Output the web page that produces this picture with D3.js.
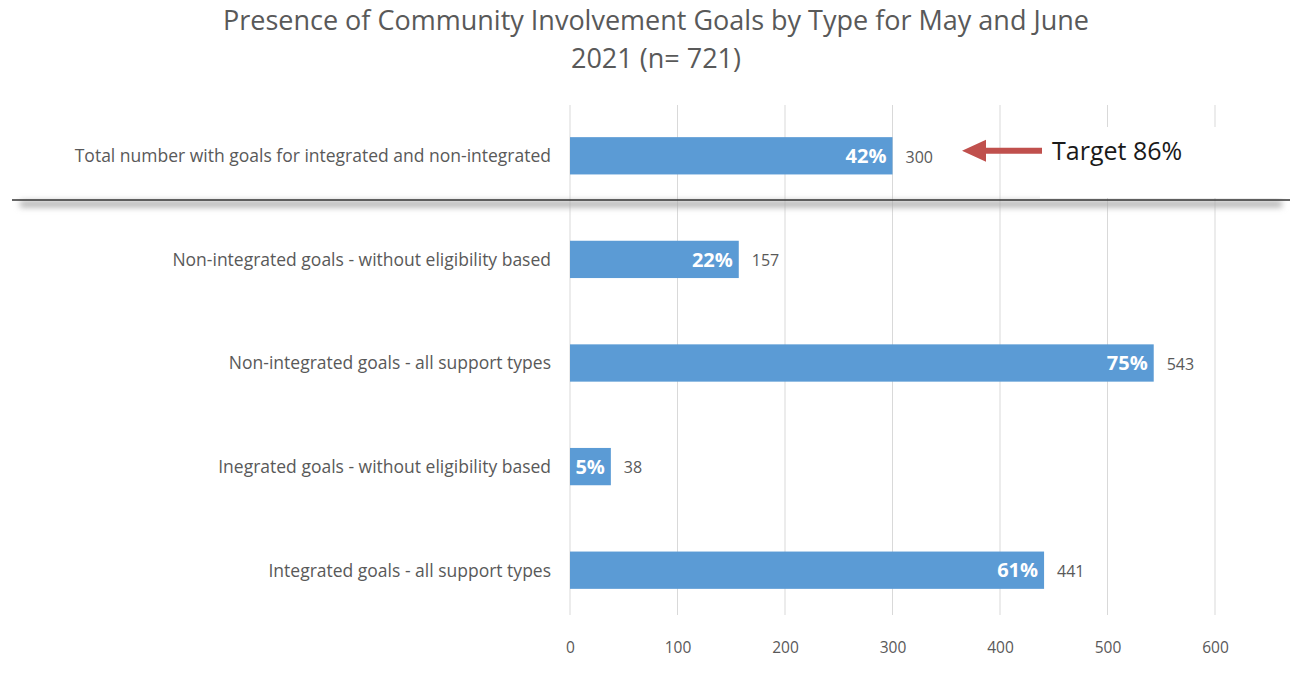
<!DOCTYPE html>
<html>
<head>
<meta charset="utf-8">
<script src="https://cdn.jsdelivr.net/npm/d3@7"></script>
<style>
  html, body { margin: 0; padding: 0; background: #fff; }
  svg { display: block; }
</style>
</head>
<body>
<svg id="chart" width="1291" height="673"></svg>
<script>
// Goal categories, top to bottom
const categories = [
  "Total number with goals for integrated and non-integrated",
  "Non-integrated goals - without eligibility based",
  "Non-integrated goals - all support types",
  "Inegrated goals - without eligibility based",
  "Integrated goals - all support types"
];
// Number of people with each goal type
const counts = [300, 157, 543, 38, 441];
// Share of the 721 people
const shares = ["42%", "22%", "75%", "5%", "61%"];
// Axis tick values
const ticks = [0, 100, 200, 300, 400, 500, 600];
const titleLines = ["Presence of Community Involvement Goals by Type for May and June", "2021 (n= 721)"];
const targetLabel = "Target 86%";

const svg = d3.select("#chart");
const FONT = "'Open Sans', sans-serif";

const x = d3.scaleLinear().domain([0, 600]).range([570, 1215]);
const y = d3.scaleBand().domain(categories).range([104, 622]).paddingInner(0.64).paddingOuter(0.32);

const defs = svg.append("defs");
const blur = defs.append("filter").attr("id", "shadow").attr("x", "-5%").attr("y", "-200%").attr("width", "110%").attr("height", "500%");
blur.append("feGaussianBlur").attr("stdDeviation", 3);

// Title
svg.append("g").selectAll("text").data(titleLines).join("text")
  .attr("x", 656).attr("y", (d, i) => 30 + i * 38)
  .attr("text-anchor", "middle")
  .attr("font-family", FONT)
  .attr("font-size", 27)
  .attr("fill", "#595959")
  .text(d => d);

// Vertical gridlines
svg.append("g").selectAll("line").data(ticks).join("line")
  .attr("x1", d => x(d)).attr("x2", d => x(d))
  .attr("y1", 105).attr("y2", 615)
  .attr("stroke", "#d9d9d9").attr("stroke-width", 1);

// Bars
svg.append("g").selectAll("rect").data(counts).join("rect")
  .attr("x", x(0))
  .attr("y", (d, i) => y(categories[i]))
  .attr("width", d => x(d) - x(0))
  .attr("height", y.bandwidth())
  .attr("fill", "#5B9BD5");

// Percent labels inside bar ends
svg.append("g").selectAll("text").data(counts).join("text")
  .attr("x", d => x(d) - 6)
  .attr("y", (d, i) => y(categories[i]) + y.bandwidth() / 2)
  .attr("dy", "0.36em")
  .attr("text-anchor", "end")
  .attr("font-family", FONT)
  .attr("font-weight", "bold")
  .attr("font-size", 20)
  .attr("fill", "#fff")
  .text((d, i) => shares[i]);

// Count labels past bar ends
svg.append("g").selectAll("text").data(counts).join("text")
  .attr("x", d => x(d) + 13)
  .attr("y", (d, i) => y(categories[i]) + y.bandwidth() / 2)
  .attr("dy", "0.42em")
  .attr("font-family", FONT)
  .attr("font-size", 16)
  .attr("fill", "#595959")
  .text(d => d);

// Category labels
svg.append("g").selectAll("text").data(categories).join("text")
  .attr("x", 551)
  .attr("y", d => y(d) + y.bandwidth() / 2)
  .attr("dy", "0.36em")
  .attr("text-anchor", "end")
  .attr("font-family", FONT)
  .attr("font-size", 17.5)
  .attr("fill", "#595959")
  .text(d => d);

// Bottom axis
const axis = svg.append("g").attr("transform", "translate(0,636)")
  .call(d3.axisBottom(x).tickValues(ticks).tickSize(0).tickPadding(6));
axis.select(".domain").remove();
axis.selectAll("text")
  .attr("font-family", FONT)
  .attr("font-size", 15.5)
  .attr("fill", "#595959");

// Separator between total and breakdown rows, with soft shadow
svg.append("rect")
  .attr("x", 20).attr("y", 201).attr("width", 1262).attr("height", 6)
  .attr("fill", "#aaa").attr("filter", "url(#shadow)");
svg.append("line")
  .attr("x1", 12).attr("x2", 1290).attr("y1", 200).attr("y2", 200)
  .attr("stroke", "#333").attr("stroke-width", 1.5);

// Target callout
const ty = y(categories[0]) + y.bandwidth() / 2 - 5;
svg.append("rect")
  .attr("x", 1040).attr("y", 127).attr("width", 251).attr("height", 71)
  .attr("fill", "#fff");
svg.append("path")
  .attr("d", `M962,${ty} L986,${ty - 11} L986,${ty - 3} L1042,${ty - 3} L1042,${ty + 3} L986,${ty + 3} L986,${ty + 11} Z`)
  .attr("fill", "#C0504D");
svg.append("text")
  .attr("x", 1052).attr("y", ty)
  .attr("dy", "0.36em")
  .attr("font-family", FONT)
  .attr("font-size", 25)
  .attr("fill", "#1a1a1a")
  .text(targetLabel);
</script>
</body>
</html>
